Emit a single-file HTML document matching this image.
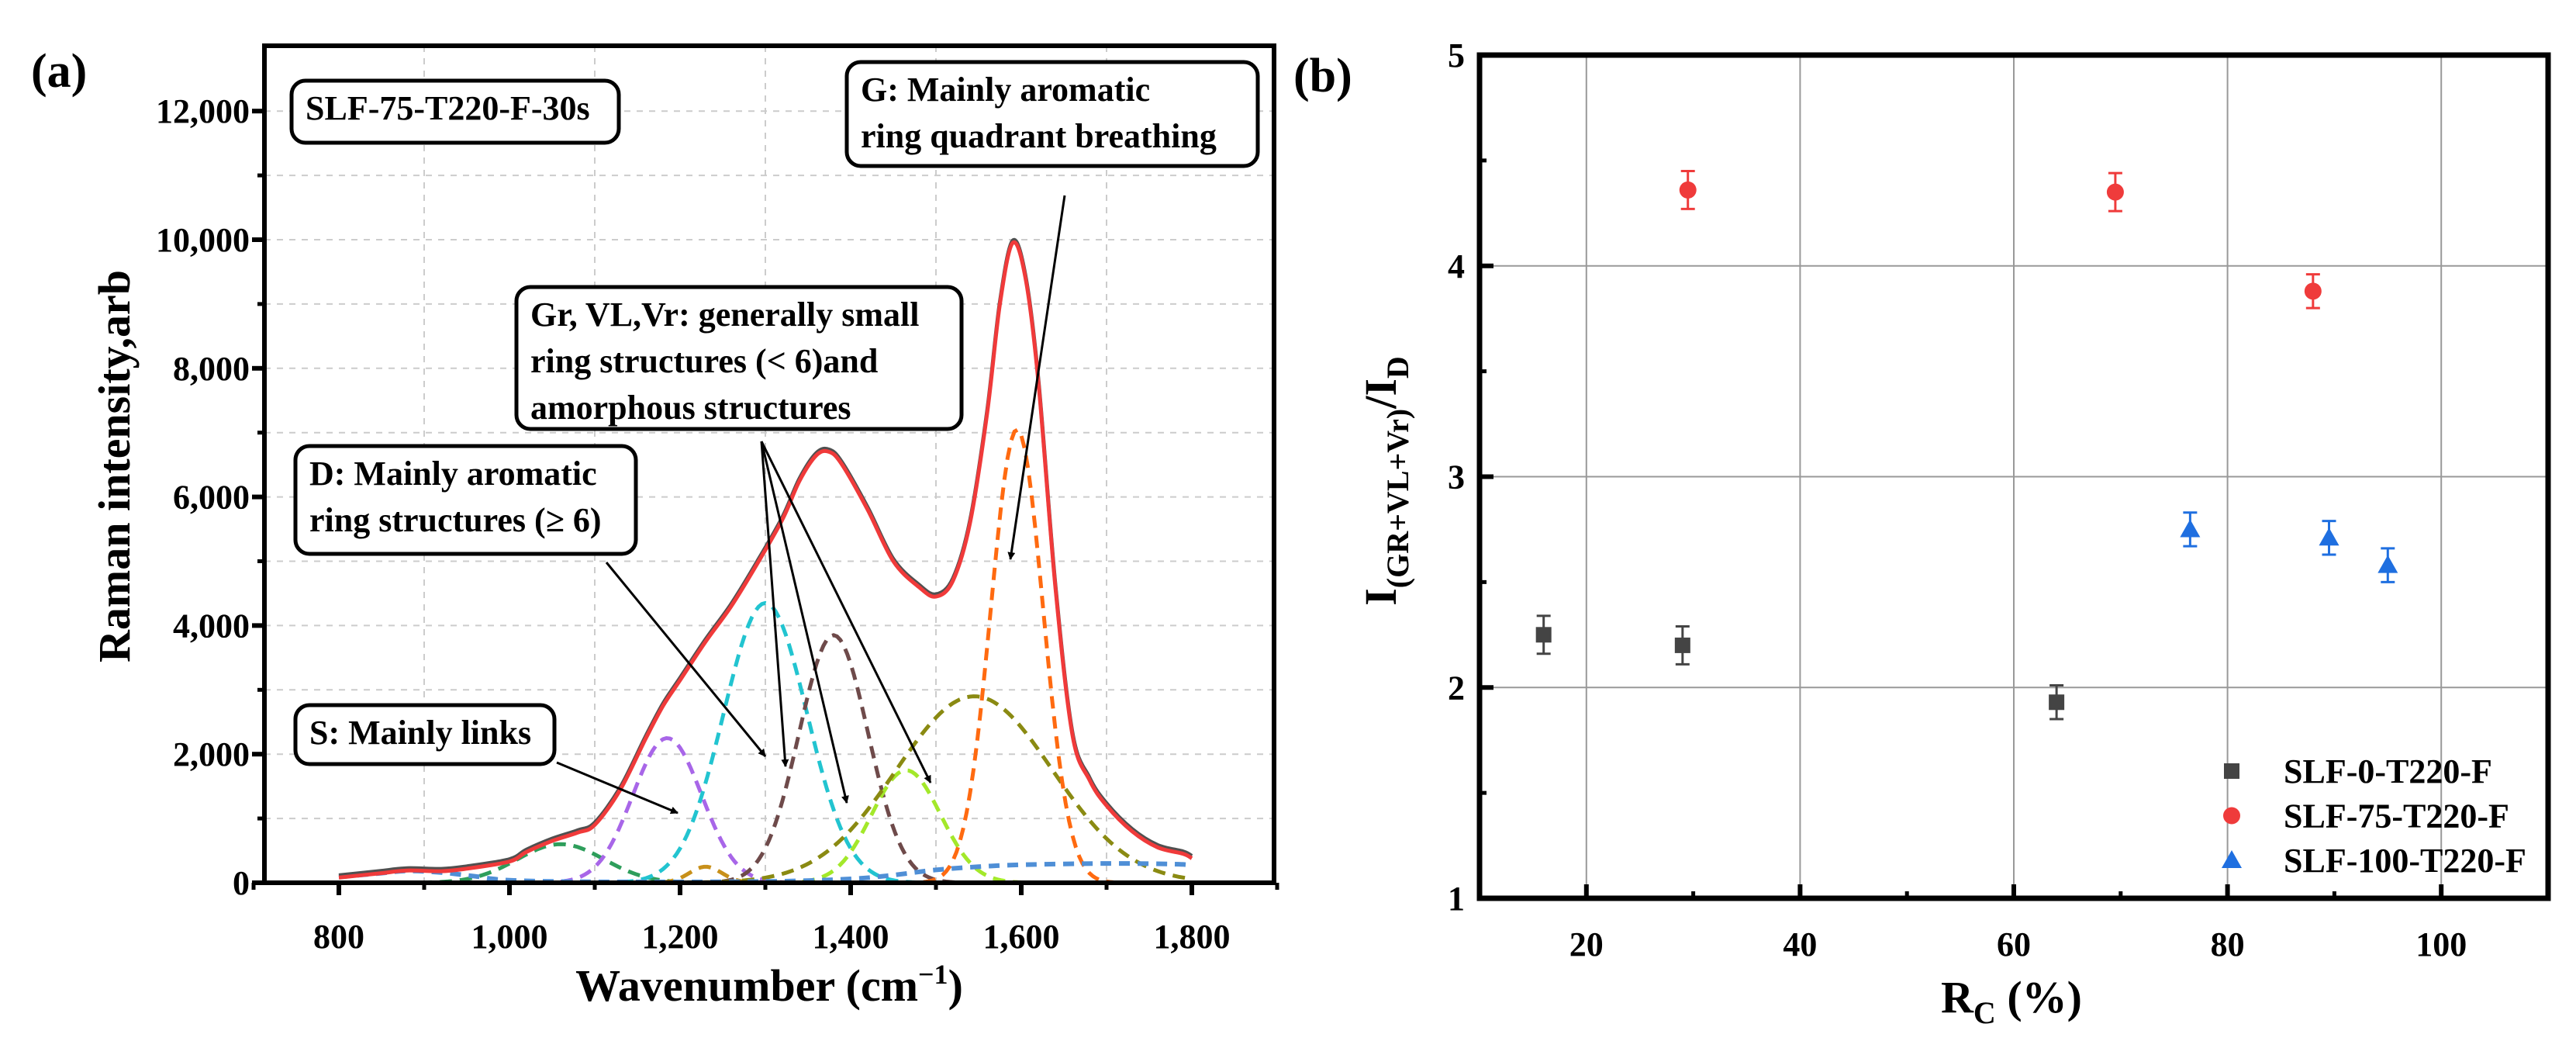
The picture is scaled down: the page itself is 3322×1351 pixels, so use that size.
<!DOCTYPE html>
<html><head><meta charset="utf-8">
<style>
html,body{margin:0;padding:0;background:#fff;}
svg{display:block;}
text{font-family:"Liberation Serif",serif;font-weight:bold;fill:#000;}
</style></head>
<body>
<svg id="fig" width="3322" height="1351" viewBox="0 0 3322 1351" xmlns="http://www.w3.org/2000/svg">
<defs>
<marker id="ah" markerWidth="10" markerHeight="10" refX="9" refY="5" orient="auto" markerUnits="userSpaceOnUse" viewBox="0 0 10 10">
<path d="M0,0 L10,5 L0,10 z" fill="#000"/>
</marker>
</defs>
<g id="pa"></g>
<g id="pb"></g>
</svg>
<script>
// ---------- Panel (a) data ----------
const specX = [800,850,880,920,950,1000,1020,1050,1080,1100,1130,1160,1180,1200,1230,1260,1290,1320,1340,1360,1375,1390,1420,1450,1480,1500,1520,1540,1560,1575,1590,1605,1620,1640,1660,1680,1700,1730,1760,1790,1800];
const specY = [80,150,190,180,220,330,480,650,780,900,1450,2250,2750,3150,3750,4300,4950,5650,6250,6650,6700,6500,5800,5000,4600,4450,4700,5600,7300,9000,9950,9400,7800,4600,2300,1600,1200,800,550,450,380];
const compCenters = [1060,1185,1230,1300,1380,1465,1545,1595];
const compHeights = [600,2250,250,4350,3850,1750,2900,7050];
const compFwhm = [120,95,45,115,95,95,215,72];
const compColors = ['#2e9e5b','#a866e8','#c8901a','#22c4d0','#6e4a4a','#a3e82a','#8a8a12','#ff6a10'];
const baseX = [800,850,880,920,960,1000,1100,1300,1400,1450,1500,1550,1600,1700,1780,1800];
const baseY = [90,150,185,160,100,40,15,20,60,120,200,250,280,300,290,270];
const aXTicks = [800,1000,1200,1400,1600,1800];
const aXTickLabels = ['800','1,000','1,200','1,400','1,600','1,800'];
const aYTicks = [0,2000,4000,6000,8000,10000,12000];
const aYTickLabels = ['0','2,000','4,000','6,000','8,000','10,000','12,000'];

// ---------- Panel (b) data ----------
const seriesNames = ['SLF-0-T220-F','SLF-75-T220-F','SLF-100-T220-F'];
const s0X = [16,29,64];       const s0Y = [2.25,2.2,1.93];   const s0E = [0.09,0.09,0.08];
const s1X = [29.5,69.5,88];   const s1Y = [4.36,4.35,3.88];  const s1E = [0.09,0.09,0.08];
const s2X = [76.5,89.5,95];   const s2Y = [2.75,2.71,2.58];  const s2E = [0.08,0.08,0.08];
const bXTicks = [20,40,60,80,100];
const bYTicks = [1,2,3,4,5];

const NS='http://www.w3.org/2000/svg';
function mk(parent,tag,attrs,txt){const e=document.createElementNS(NS,tag);for(const k in attrs)e.setAttribute(k,attrs[k]);if(txt!==undefined)e.textContent=txt;parent.appendChild(e);return e;}
function smooth(pts){let d='M'+pts[0][0]+','+pts[0][1];
 for(let i=0;i<pts.length-1;i++){const p0=pts[Math.max(0,i-1)],p1=pts[i],p2=pts[i+1],p3=pts[Math.min(pts.length-1,i+2)];
  const c1x=p1[0]+(p2[0]-p0[0])/6,c1y=p1[1]+(p2[1]-p0[1])/6,c2x=p2[0]-(p3[0]-p1[0])/6,c2y=p2[1]-(p3[1]-p1[1])/6;
  d+=`C${c1x.toFixed(1)},${c1y.toFixed(1)} ${c2x.toFixed(1)},${c2y.toFixed(1)} ${p2[0].toFixed(1)},${p2[1].toFixed(1)}`;}
 return d;}

// ======= Panel a =======
const pa=document.getElementById('pa');
const AL=341,AR=1643,AT=59,AB=1138;
const ax=v=>437+(v-800)*1.1;
const ay=v=>AB-v*0.0829;
for(let v=900;v<=1700;v+=200){const g=mk(pa,'line',{x1:ax(v),x2:ax(v),y1:AT,y2:AB,stroke:'#ccc','stroke-width':2,'stroke-dasharray':'8,8'});

}
for(let v=1000;v<=12000;v+=1000){const g=mk(pa,'line',{x1:AL,x2:AR,y1:ay(v),y2:ay(v),stroke:'#ccc','stroke-width':2,'stroke-dasharray':'8,8'});

}
compCenters.forEach((c,i)=>{const s=compFwhm[i]/2.3548;let d='';
 for(let x=800;x<=1800;x+=4){const y=compHeights[i]*Math.exp(-0.5*((x-c)/s)**2);d+=(x===800?'M':'L')+ax(x).toFixed(1)+','+ay(y).toFixed(1);}
 const p=mk(pa,'path',{d:d,fill:'none',stroke:compColors[i],'stroke-width':5,'stroke-dasharray':'16,10'});
 
 
});
{const p=mk(pa,'path',{d:smooth(baseX.map((x,i)=>[ax(x),ay(baseY[i])])),fill:'none',stroke:'#4f8fd6','stroke-width':6,'stroke-dasharray':'14,10'});

}
function specPath(off){return smooth(specX.map((x,i)=>[ax(x),ay(specY[i])+off]));}
{const p=mk(pa,'path',{d:specPath(-3),fill:'none',stroke:'#505050','stroke-width':5,'stroke-linejoin':'round'});


const q=mk(pa,'path',{d:specPath(0),fill:'none',stroke:'#f03a3a','stroke-width':5,'stroke-linejoin':'round'});

}
{const f=mk(pa,'rect',{x:AL,y:AT,width:AR-AL,height:AB-AT,fill:'none',stroke:'#000','stroke-width':6});

}
aXTicks.forEach((v,i)=>{mk(pa,'line',{x1:ax(v),x2:ax(v),y1:AB,y2:AB+16,stroke:'#000','stroke-width':6});
 mk(pa,'line',{x1:ax(v+100),x2:ax(v+100),y1:AB,y2:AB+9,stroke:'#000','stroke-width':5});
 const t=mk(pa,'text',{x:ax(v),y:1222,'text-anchor':'middle','font-size':44},aXTickLabels[i]);
 
 });
mk(pa,'line',{x1:ax(700),x2:ax(700),y1:AB,y2:AB+9,stroke:'#000','stroke-width':5});
aYTicks.forEach((v,i)=>{mk(pa,'line',{x1:AL-16,x2:AL,y1:ay(v),y2:ay(v),stroke:'#000','stroke-width':6});
 if(v<12000)mk(pa,'line',{x1:AL-9,x2:AL,y1:ay(v+1000),y2:ay(v+1000),stroke:'#000','stroke-width':5});
 const t=mk(pa,'text',{x:322,y:ay(v)+15,'text-anchor':'end','font-size':44},aYTickLabels[i]);
 
 });
{const t=mk(pa,'text',{x:0,y:0,'text-anchor':'middle','font-size':58,transform:'translate(167,601) rotate(-90)'},'Raman intensity,arb');


const t2=mk(pa,'text',{x:992,y:1290,'text-anchor':'middle','font-size':58},'Wavenumber (cm');


mk(t2,'tspan',{'font-size':36,dy:-22},'−1');
mk(t2,'tspan',{dy:22},')');
const pl=mk(pa,'text',{x:40,y:112,'font-size':62},'(a)');

}
function box(x,y,w,h,lines,name){const g=mk(pa,'g',{});
 
 
 mk(g,'rect',{x:x,y:y,width:w,height:h,rx:18,fill:'#fff',stroke:'#000','stroke-width':5});
 lines.forEach((l,i)=>mk(g,'text',{x:x+18,y:y+50+i*60,'font-size':44},l));}
box(376,104,422,80,['SLF-75-T220-F-30s'],'sample-label-box');
box(1092,80,530,134,['G: Mainly aromatic','ring quadrant breathing'],'g-band-annotation');
box(666,370,574,183,['Gr, VL,Vr: generally small','ring structures (< 6)and','amorphous structures'],'gr-vl-vr-annotation');
box(381,575,439,139,['D: Mainly aromatic','ring structures (≥ 6)'],'d-band-annotation');
box(381,909,334,76,['S: Mainly links'],'s-band-annotation');
function arrow(x1,y1,x2,y2,name){const a=mk(pa,'line',{x1:x1,y1:y1,x2:x2,y2:y2,stroke:'#000','stroke-width':3,'marker-end':'url(#ah)'});
 
 }
arrow(1373,252,1303,721,'g-arrow');
arrow(982,569,1013,988,'gr-arrow');
arrow(982,569,1092,1035,'vl-arrow');
arrow(982,569,1200,1009,'vr-arrow');
arrow(782,725,987,975,'d-arrow');
arrow(718,983,874,1048,'s-arrow');

// ======= Panel b =======
const pb=document.getElementById('pb');
const BL=1908,BR=3286,BT=71,BB=1158;
const bx=v=>BL+(v-10)*13.78;
const by=v=>BB-(v-1)*271.75;
bXTicks.forEach(v=>{const g=mk(pb,'line',{x1:bx(v),x2:bx(v),y1:BT,y2:BB,stroke:'#999','stroke-width':2});

});
bYTicks.forEach(v=>{const g=mk(pb,'line',{x1:BL,x2:BR,y1:by(v),y2:by(v),stroke:'#999','stroke-width':2});

});
{const f=mk(pb,'rect',{x:BL,y:BT,width:BR-BL,height:BB-BT,fill:'none',stroke:'#000','stroke-width':7});

}
bXTicks.forEach(v=>{mk(pb,'line',{x1:bx(v),x2:bx(v),y1:BB-18,y2:BB,stroke:'#000','stroke-width':6});
 mk(pb,'line',{x1:bx(v+10),x2:bx(v+10),y1:BB-9,y2:BB,stroke:'#000','stroke-width':5});
 const t=mk(pb,'text',{x:bx(v),y:1232,'text-anchor':'middle','font-size':44},String(v));
 
 });
bYTicks.forEach(v=>{mk(pb,'line',{x1:BL,x2:BL+18,y1:by(v),y2:by(v),stroke:'#000','stroke-width':6});
 if(v<5)mk(pb,'line',{x1:BL,x2:BL+9,y1:by(v+0.5),y2:by(v+0.5),stroke:'#000','stroke-width':5});
 const t=mk(pb,'text',{x:1889,y:by(v)+15,'text-anchor':'end','font-size':44},String(v));
 
 });
{const pl=mk(pb,'text',{x:1668,y:118,'font-size':62},'(b)');


const yt=mk(pb,'text',{x:0,y:0,'text-anchor':'middle','font-size':58,transform:'translate(1800,620) rotate(-90)'},'I');


mk(yt,'tspan',{'font-size':40,dy:16},'(GR+VL+Vr)');
mk(yt,'tspan',{dy:-16},'/I');
mk(yt,'tspan',{'font-size':40,dy:16},'D');
const xt=mk(pb,'text',{x:2594,y:1305,'text-anchor':'middle','font-size':58},'R');


mk(xt,'tspan',{'font-size':40,dy:14},'C');
mk(xt,'tspan',{dy:-14},' (%)');}
const colors=['#444','#ef3b3b','#1f6fe0'];
function marker(g,type,x,y,c){
 if(type===0)mk(g,'rect',{x:x-10,y:y-10,width:20,height:20,fill:c});
 else if(type===1)mk(g,'circle',{cx:x,cy:y,r:11,fill:c});
 else mk(g,'path',{d:`M${x},${y-13}L${x+13},${y+10}L${x-13},${y+10}Z`,fill:c});}
[[s0X,s0Y,s0E],[s1X,s1Y,s1E],[s2X,s2Y,s2E]].forEach((s,k)=>{
 s[0].forEach((xv,i)=>{const g=mk(pb,'g',{});
  
  
  const X=bx(xv),Y=by(s[1][i]),t=by(s[1][i]+s[2][i]),b=by(s[1][i]-s[2][i]);
  mk(g,'line',{x1:X,x2:X,y1:t,y2:b,stroke:colors[k],'stroke-width':3});
  mk(g,'line',{x1:X-9,x2:X+9,y1:t,y2:t,stroke:colors[k],'stroke-width':3});
  mk(g,'line',{x1:X-9,x2:X+9,y1:b,y2:b,stroke:colors[k],'stroke-width':3});
  marker(g,k,X,Y,colors[k]);});
 const lg=mk(pb,'g',{});
 
 
 const ly=994+k*57.5;
 marker(lg,k,2878,ly,colors[k]);
 mk(lg,'text',{x:2945,y:ly+15,'font-size':44},seriesNames[k]);
});
</script>
</body></html>
